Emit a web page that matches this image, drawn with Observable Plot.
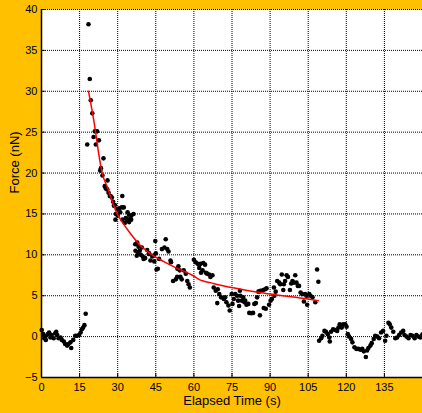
<!DOCTYPE html>
<html>
<head>
<meta charset="utf-8">
<script src="https://cdn.jsdelivr.net/npm/d3@7"></script>
<script src="https://cdn.jsdelivr.net/npm/@observablehq/plot@0.6"></script>
<style>
  html, body { margin: 0; padding: 0; background: #FFC000; }
  #chart svg { display: block; }
</style>
</head>
<body>
<div id="chart"></div>
<script>
// Measured force samples: [elapsed time (s), force (nN)]
const samples = [
  [0.1,0.8],[0.7,0.3],[1.1,-0.2],[1.5,0],[1.7,-0.4],[2.5,0.3],[3,0.5],[3.5,-0.1],[4,0.2],[4.8,-0.2],
  [5.4,0.4],[5.8,0.6],[6.2,0.2],[6.7,-0.2],[7.5,-0.1],[8,-0.4],[8.8,-0.6],[9.3,-0.9],[10.1,-1.1],[10.6,-0.9],
  [11.4,-0.7],[11.7,-1.4],[12.5,-0.4],[13.3,0.1],[14,0.1],[14.8,0.2],[15.4,0.5],[15.9,0.9],[16.4,1.1],[16.9,1.4],
  [17.4,2.8],
  [18.0,23.5],[18.5,38.2],[19.0,31.5],[19.4,28.9],[20.0,27.3],[20.5,24.4],[21.0,25.1],[21.4,23.5],[21.9,25.1],[22.6,24.0],
  [23.1,20.3],[23.4,20.6],[24.0,19.7],[24.4,21.8],[24.9,18.4],[25.3,18.1],[25.9,18.0],[26.0,19.1],[26.4,17.6],[26.9,17.2],
  [27.2,17.2],[27.7,17.0],[28.2,16.5],[28.5,16.0],[28.9,16.1],[29.1,14.3],[29.3,15.0],[29.8,15.6],[30.0,14.8],[30.6,15.7],
  [31.0,15.2],[31.6,15.8],[31.8,17.2],[31.9,14.3],[32.4,15.8],[32.8,13.9],[33.2,14.5],[33.7,14.3],[33.9,15.2],[34.4,14.9],
  [34.5,14.0],[34.9,14.4],[35.3,14.3],[35.4,14.8],[36.2,15.0],[36.9,11.3],[37.0,10.5],[37.5,9.9],[37.7,11.5],[38.0,10.3],
  [38.2,11.0],[38.7,10.5],[39.1,10.0],[39.5,10.9],[39.9,9.8],[40.2,9.5],[40.8,9.6],[41.6,10.6],[42.2,10.1],[42.4,10.2],
  [42.9,9.3],[43.6,9.8],[44.2,9.9],[44.4,9.2],[44.8,11.7],[45.0,10.2],[45.3,8.2],[45.8,8.3],[46.3,9.5],[47.4,10.7],
  [48.4,10.9],[48.9,11.9],[49.5,10.7],[50.0,10.4],[50.8,9.3],[51.0,9.1],[51.8,6.8],[52.9,7.0],[53.4,7.3],[53.5,8.3],
  [53.9,8.6],[54.4,8.1],[54.7,7.3],[55.2,7.0],[56.0,8.1],[56.8,7.7],[57.4,6.8],[57.9,6.4],[58.4,6.0],[60.0,9.4],
  [60.7,9.1],[61.5,8.9],[62.1,8.4],[62.6,8.9],[62.8,7.8],[63.4,8.1],[63.7,9.0],[64.4,8.8],[64.7,7.8],[65.2,7.7],
  [66.0,7.6],[66.5,7.3],[67.3,7.5],[67.8,6.0],[68.6,5.6],[69.2,4.1],[69.4,5.8],[70.0,5.2],[70.7,4.8],[71.8,4.6],
  [72.3,4.8],[72.8,4.2],[73.6,3.8],[74.1,3.2],[74.9,5.2],[75.2,4.0],[75.7,4.6],[76.3,5.2],[77.0,5.0],[77.4,4.4],
  [77.8,3.75],[78.1,5.6],[78.3,5.0],[78.9,4.4],[79.4,4.8],[79.9,4.2],[80.2,4.4],[80.7,3.9],[81.4,4.0],[81.8,2.9],
  [82.6,2.85],[83.3,2.9],[83.8,4.0],[84.4,4.1],[84.9,4.8],[85.4,5.5],[85.7,5.5],[86.2,5.6],[86.0,2.6],[87.3,5.7],
  [88.1,5.8],[88.6,5.9],[87.5,3.5],[88.3,3.4],[89.6,3.9],[90.2,4.4],[90.7,4.6],[91.5,6.0],[91.7,5.0],[92.2,5.5],
  [92.8,6.8],[93.6,6.6],[94.0,6.4],[94.6,7.6],[95.2,5.7],[95.4,6.4],[95.9,6.8],[96.5,7.5],[97.0,7.3],[97.8,5.7],
  [98.3,6.5],[98.8,6.8],[99.3,6.6],[99.9,7.5],[100.4,6.6],[100.9,6.2],[101.4,6.2],[102.0,5.4],[102.6,5.2],[103.3,4.3],
  [103.8,5.2],[104.3,5.0],[104.6,3.9],[105.4,5.2],[105.9,5.0],[106.7,4.8],[107.8,4.2],[108.5,8.2],[109.0,6.7],
  [109.3,-0.5],[110.1,-0.2],[110.6,0.1],[111.4,0.7],[112.0,0.6],[112.7,0.3],[113.3,-0.1],[113.5,-0.6],[114.0,0.6],[114.8,0.9],
  [115.6,0.8],[116.4,0.7],[116.9,1.1],[117.4,1.5],[118.2,1.1],[118.8,1.5],[119.6,1.5],[120.1,1.2],[120.6,0.3],[121.1,0.0],
  [121.9,-0.3],[122.4,-0.7],[123.2,-1.3],[124.0,-1.5],[124.8,-1.5],[125.6,-1.6],[126.3,-1.5],[126.9,-1.8],[127.7,-2.5],[128.2,-1.7],
  [128.7,-1.4],[129.5,-1.1],[130.0,-0.8],[130.8,-0.3],[131.4,0.1],[132.2,0.0],[132.9,-0.2],[133.7,0.5],[134.5,0.7],[135.3,-0.5],
  [135.8,0.1],[136.6,1.7],[137.1,1.5],[137.7,1.1],[138.5,0.6],[139.3,-0.2],[140.0,-0.1],[140.8,0.2],[141.6,0.5],[142.4,0.7],
  [142.9,0.2],[143.7,0.0],[144.5,-0.2],[145.3,0.2],[146.1,0.1],[146.9,-0.2],[147.6,0.2],[148.4,0.0],[149.2,-0.1],[150.0,0.3]
];

// Fitted relaxation curve
const fitTime  = [18.5, 20, 21.3, 22.5, 23.9, 26, 28, 29.8, 32, 35, 39, 43.6, 48, 53, 59.4, 62.6, 66.5, 70, 74.8, 80, 86, 90, 95, 100, 105, 109];
const fitForce = [30, 27.5, 25, 22.4, 20, 18.2, 16.4, 15, 13.9, 12.6, 11.1, 10, 9.2, 8.4, 7.5, 6.9, 6.6, 6.3, 6.0, 5.7, 5.4, 5.2, 5.0, 4.8, 4.6, 4.4];

const xTicks = [0, 15, 30, 45, 60, 75, 90, 105, 120, 135];
const yTicks = [-5, 0, 5, 10, 15, 20, 25, 30, 35, 40];
const xLabel = "Elapsed Time (s)";
const yLabel = "Force (nN)";

const points = samples.map(([t, f]) => ({t, f}));
const fit = fitTime.map((t, i) => ({t, f: fitForce[i]}));

const chart = Plot.plot({
  width: 422,
  height: 413,
  marginLeft: 41,
  marginRight: 0,
  marginTop: 9,
  marginBottom: 36,
  style: {background: "#FFC000", fontFamily: "'Liberation Sans', Arial, sans-serif", fontSize: "11px", color: "black"},
  x: {domain: [0, 150]},
  y: {domain: [-5, 40]},
  marks: [
    Plot.frame({fill: "white", stroke: "none"}),
    Plot.gridX(xTicks.filter(d => d > 0), {stroke: "black", strokeOpacity: 1, strokeDasharray: "1,1", strokeWidth: 1}),
    Plot.gridY(yTicks.filter(d => d > -5), {stroke: "black", strokeOpacity: 1, strokeDasharray: "1,1", strokeWidth: 1}),
    Plot.ruleY(yTicks, {y: d => d, x1: 0, x2: 1.5, stroke: "black"}),
    Plot.ruleX(xTicks, {x: d => d, y1: -5, y2: -4.5, stroke: "black"}),
    Plot.dot(points, {x: "t", y: "f", r: 2.3, fill: "black", stroke: "none"}),
    Plot.line(fit, {x: "t", y: "f", stroke: "#FF0000", strokeWidth: 1.5, curve: "monotone-x"}),
    Plot.ruleX([0], {stroke: "black", strokeWidth: 1.5}),
    Plot.ruleY([-5], {stroke: "black", strokeWidth: 1.5}),
    Plot.axisX({ticks: xTicks, tickSize: 0, tickPadding: 6, label: null, fontSize: 11}),
    Plot.axisY({ticks: yTicks, tickSize: 0, tickPadding: 4, label: null, fontSize: 11}),
    Plot.text([xLabel], {frameAnchor: "bottom", dy: 27, text: d => d, fontSize: 13, fill: "black"}),
    Plot.text([yLabel], {frameAnchor: "left", dx: -27, rotate: -90, text: d => d, fontSize: 13, fill: "black"})
  ]
});
document.getElementById("chart").append(chart);
</script>
</body>
</html>
